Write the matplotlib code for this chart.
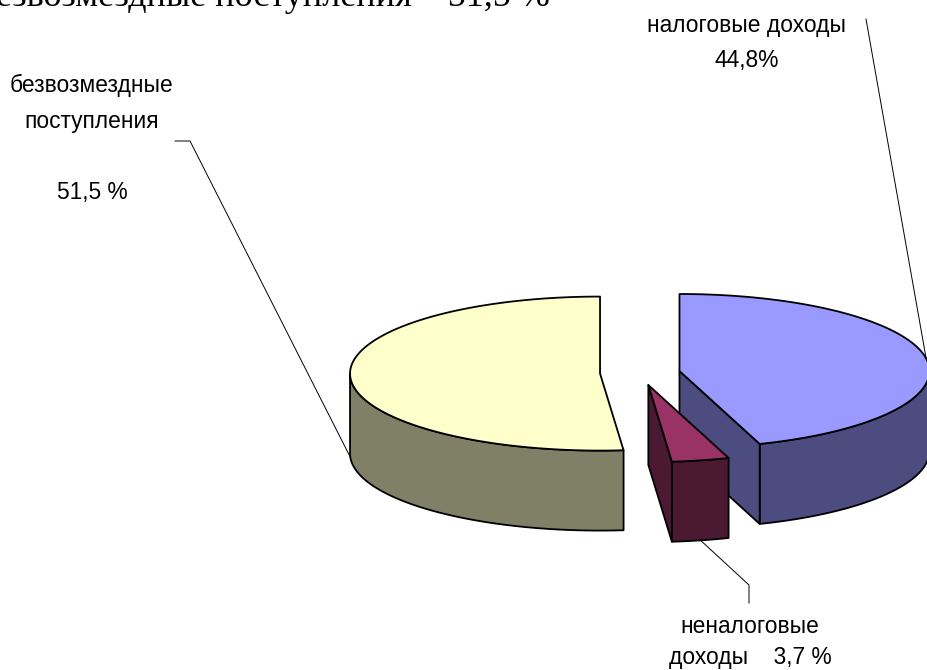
import numpy as np
import matplotlib.pyplot as plt
from matplotlib.patches import Polygon

# data
names = ['безвозмездные поступления', 'неналоговые доходы', 'налоговые доходы']
shares = [51.5, 3.7, 44.8]
top_colors = ['#FFFFCC', '#993366', '#9999FF']
side_colors = ['#808066', '#4C1933', '#4C4C80']
label_texts = ['безвозмездные\nпоступления\n\n51,5 %', 'неналоговые\nдоходы    3,7 %', 'налоговые доходы\n44,8%']
title = 'безвозмездные поступления – 51,5 %'

# pie layout (pixels, y pointing down)
cx0, cy0 = 640, 373
ra, rb = 250, 77
depth = 80
explode = 0.16

fig = plt.figure(figsize=(9.27, 6.7), dpi=100)
ax = fig.add_axes([0, 0, 1, 1])
ax.set_xlim(0, 927)
ax.set_ylim(670, 0)
ax.axis('off')

def rim(cx, cy, t, dz=0):
    t = np.radians(t)
    return cx + ra * np.cos(t), cy - rb * np.sin(t) + dz

# slice angles, counter-clockwise from the top
bounds = 90 + 360 * np.cumsum([0] + shares) / sum(shares)
slices = []
for i in range(len(shares)):
    t1, t2 = bounds[i], bounds[i + 1]
    mid = np.radians((t1 + t2) / 2)
    cx = cx0 + explode * ra * np.cos(mid)
    cy = cy0 - explode * rb * np.sin(mid)
    slices.append((cy, i, t1, t2, cx))

lw = 1.3
for cy, i, t1, t2, cx in sorted(slices):
    # outer wall (front part only)
    for lo, hi in [(180, 360), (540, 720)]:
        a, b = max(t1, lo), min(t2, hi)
        if a < b:
            tt = np.linspace(a, b, 80)
            xs, ys = rim(cx, cy, tt)
            pts = np.column_stack([np.r_[xs, xs[::-1]], np.r_[ys, (ys + depth)[::-1]]])
            ax.add_patch(Polygon(pts, closed=True, fc=side_colors[i], ec='black', lw=lw, joinstyle='round'))
    # cut faces
    for t, vis in [(t1, np.cos(np.radians(t1)) > 1e-6), (t2, np.cos(np.radians(t2)) < -1e-6)]:
        if vis:
            x, y = rim(cx, cy, t)
            pts = [(cx, cy), (x, y), (x, y + depth), (cx, cy + depth)]
            ax.add_patch(Polygon(pts, closed=True, fc=side_colors[i], ec='black', lw=lw, joinstyle='round'))
    # top
    tt = np.linspace(t1, t2, 200)
    xs, ys = rim(cx, cy, tt)
    pts = np.column_stack([np.r_[cx, xs], np.r_[cy, ys]])
    ax.add_patch(Polygon(pts, closed=True, fc=top_colors[i], ec='black', lw=lw, joinstyle='round'))

# labels and leader lines
centers = {i: (cx, cy, (t1 + t2) / 2) for cy, i, t1, t2, cx in slices}
font = dict(family='Liberation Sans', fontsize=16.4, ha='center', va='center')

# безвозмездные
cx, cy, m = centers[0]
ax.text(92, 139, label_texts[0], linespacing=1.7, **font)
x, y = rim(cx, cy, m, depth)
ax.plot([175, 190, x], [141, 141, y], color='black', lw=0.7)

# неналоговые
cx, cy, m = centers[1]
ax.text(750, 642, label_texts[1], linespacing=1.45, **font)
x, y = rim(cx, cy, m, depth)
ax.plot([x, 749, 749], [y, 585, 603], color='black', lw=0.7)

# налоговые
cx, cy, m = centers[2]
ax.text(747, 43, label_texts[2], linespacing=1.7, **font)
x, y = rim(cx, cy, m)
ax.plot([866, x], [19, y], color='black', lw=0.7)

ax.text(550, 6, title, family='Liberation Serif', fontsize=26, ha='right', va='baseline')

fig.savefig('out.png', dpi=100)
